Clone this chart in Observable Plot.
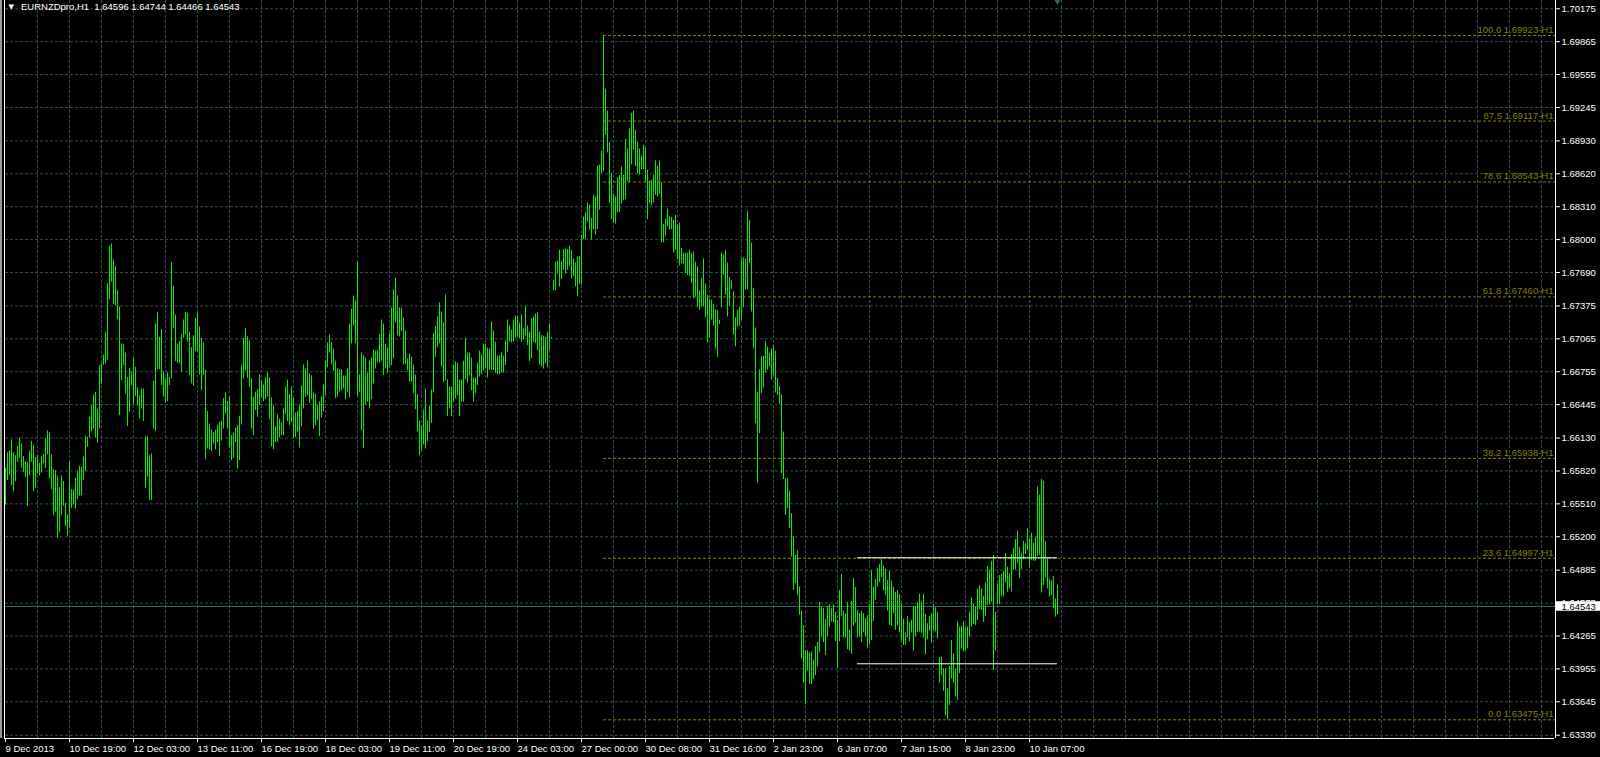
<!DOCTYPE html>
<html><head><meta charset="utf-8">
<script src="https://cdn.jsdelivr.net/npm/d3@7"></script>
<script src="https://cdn.jsdelivr.net/npm/@observablehq/plot@0.6"></script>
<style>
html,body{margin:0;padding:0;background:#000;overflow:hidden}
#chart svg{display:block}
</style></head><body><div id="chart"></div>
<script>
// ---- data ----
const symbolName = "EURNZDpro,H1";
const lastOpen = 1.64596, lastHigh = 1.64744, lastLow = 1.64466, lastClose = 1.64543;

// hourly bar highs / lows in points (1 point = 0.00001)
const highPts = [
165845,165989,166008,166112,165989,165964,166052,166131,166074,165958,165908,165901,166008,166099,166065,165948,
165970,165892,165955,165974,166121,166197,166178,165970,165832,165823,165769,165666,165776,165722,165515,165405,
165908,165644,165641,165751,165813,165864,165854,165952,166146,166137,166325,166435,166536,166561,166404,166812,
166828,166913,167126,167582,167937,167959,167808,167745,167519,167365,167016,167016,166932,166702,166787,166749,
166881,166797,166602,166530,166592,166592,166137,166146,165964,165980,166665,167205,167315,167079,167151,166756,
166687,166743,166702,167780,167560,167290,167016,167038,167101,167243,167315,167305,167126,166982,167095,167258,
167309,167177,167070,167026,166768,166382,166263,166206,166184,166203,166253,166278,166285,166504,166555,166473,
166514,166153,166178,166222,166247,166335,166812,167070,167164,167085,167048,166687,166514,166561,166583,166724,
166671,166630,166702,166743,166696,166508,166435,166234,166347,166310,166272,166404,166611,166677,166539,166611,
166508,166366,166379,166442,166621,166818,166781,166856,166734,166715,166555,166545,166445,166470,166517,166630,
166856,167026,167101,167026,166969,166856,166781,166768,166775,166715,166715,166781,167205,167346,167469,167422,
167789,166724,166932,166903,166884,166743,166856,166884,166960,166950,166950,167101,167243,167205,167016,166979,
167111,167356,167525,167638,167469,167356,167356,167261,167139,166875,166922,166894,166818,166724,166539,166291,
166247,166394,166592,166291,166432,166583,167111,167180,167271,167403,167318,167214,167478,166680,166611,166611,
166818,166847,166837,166677,166677,166856,167073,166932,166932,166884,166696,166696,166837,166950,166913,167016,
167016,166979,166969,167224,167139,167035,166903,166903,166932,166903,167045,167243,167186,167148,167243,167280,
167280,167214,167290,167158,167374,167186,167129,167252,167271,167300,167310,167130,167095,167090,167077,167124,
167202,167077,167617,167787,167799,167900,167790,167906,167912,167906,167937,167900,167818,167780,167831,167843,
168041,168214,168252,168346,168324,168201,168418,168402,168694,168701,168833,169923,169417,169213,168917,168622,
168427,168402,168581,168603,168685,168606,168946,168855,169043,169191,169213,169031,168914,168855,168789,168889,
168861,168654,168553,168559,168606,168742,168691,168742,168537,168145,168189,168286,168214,168208,168182,168230,
168138,168157,167915,167871,167871,167871,167900,167871,167884,167787,167743,167516,167633,167818,167579,167476,
167435,167429,167391,167334,167334,167240,167871,167853,167900,167780,167642,167611,167507,167262,167334,167366,
167821,167828,167820,168266,168182,167968,167541,167167,166558,166774,166894,166900,167041,166988,166925,166972,
167004,166950,166690,166617,166539,166187,165747,165747,165631,165418,165198,165025,165066,164726,164499,164364,
164129,164129,164103,164113,164034,164166,164204,164581,164537,164524,164421,164543,164562,164521,164562,164487,
164411,164694,164845,164499,164474,164581,164317,164590,164807,164722,164506,164480,164499,164474,164430,164458,
164562,164883,164725,164798,164901,164939,164989,164926,164895,164788,164876,164782,164725,164675,164694,164656,
164562,164424,164292,164449,164389,164411,164543,164543,164575,164656,164584,164656,164468,164380,164449,164474,
164562,164531,164487,164060,164066,163956,163956,163767,163978,164223,164097,163956,164399,164349,164355,164399,
164339,164349,164487,164625,164568,164537,164703,164741,164710,164638,164763,164920,164889,164970,165024,164487,
164757,164835,164845,164873,165040,164914,164851,165033,165087,165175,165253,165100,165040,165156,165134,165275,
165178,165234,165140,165197,165668,165592,165740,165721,165156,164999,164798,164788,164826,164616,164744
];
const lowPts = [
165499,165729,165782,165681,165625,165719,165901,165939,165848,165807,165760,165487,165776,165901,165625,165656,
165791,165776,165798,165886,165845,165970,165744,165644,165399,165430,165185,165242,165405,165487,165295,165204,
165279,165468,165499,165462,165550,165581,165587,165729,165813,166043,166128,166190,166215,166131,166080,166215,
166639,166818,166828,166859,167434,167597,167384,167378,167246,166341,166671,166812,166545,166237,166372,166624,
166442,166523,166429,166310,166404,166285,165656,165760,165540,165540,166215,166193,166775,166775,166624,166514,
166460,166473,166624,166687,167164,166850,166837,166828,166749,167070,167101,167032,166718,166639,166617,166944,
166938,166724,166577,166718,165926,166027,166021,166002,166074,166021,166090,165955,166102,166215,166357,166215,
166040,165917,165939,166090,165839,165917,166253,166687,166765,166693,166608,166215,166153,166388,166325,166435,
166504,166473,166492,166514,166303,166049,166021,166090,166090,166131,166153,166153,166351,166285,166247,166278,
166121,166137,166184,166036,166237,166404,166514,166530,166460,166492,166215,166247,166294,166143,166319,166379,
166530,166793,166932,166822,166756,166504,166514,166561,166574,166592,166492,166561,166511,167016,167186,167016,
166520,166561,166200,166030,166442,166467,166404,166492,166639,166781,166844,166837,166853,166718,166781,166737,
166793,166812,166875,167214,167092,167082,167133,166818,166825,166765,166661,166655,166548,166398,166184,165964,
166011,166065,166027,166096,166184,166266,166555,166888,166982,167016,166800,166655,166671,166332,166404,166332,
166467,166498,166530,166332,166467,166467,166680,166649,166718,166577,166467,166548,166624,166705,166727,166762,
166781,166696,166768,166765,166765,166740,166727,166727,166743,166743,166812,166935,167035,167026,167032,167073,
167082,167064,167032,167054,167089,167001,166850,166875,167032,167020,166950,166820,166800,166780,166830,166790,
166957,167064,167516,167516,167674,167554,167623,167711,167674,167711,167752,167630,167655,167554,167460,167579,
167570,168000,168000,168167,168088,167994,168095,168041,168095,168277,168622,168638,168983,168817,168346,168189,
168151,168145,168252,168252,168333,168365,168377,168544,168537,168704,168842,168685,168622,168606,168660,168660,
168537,168189,168339,168318,168346,168418,168402,168427,167969,167969,168032,168120,168088,168095,167875,167900,
167812,167752,167774,167768,167680,167664,167655,167589,167444,167460,167359,167334,167366,167366,167262,167027,
167067,167240,167184,166973,166888,167202,167359,167664,167476,167272,167372,167532,167099,166989,167171,167184,
167240,167359,167522,167528,167773,167318,166972,166266,165706,166171,166548,166602,166743,166768,166800,166674,
166721,166555,166533,166448,165794,165738,165402,165465,165276,165009,164695,164758,164648,164460,164053,163821,
163620,163934,163808,163808,163852,163893,163972,164110,164254,164204,164082,164254,164349,164396,164389,164210,
163959,164213,164449,164248,164245,164135,164122,164091,164355,164386,164245,164254,164204,164298,164254,164151,
164185,164223,164402,164600,164725,164769,164813,164688,164647,164499,164364,164355,164474,164317,164361,164295,
164217,164176,164182,164245,164207,164292,164122,164254,164298,164301,164292,164245,164088,164229,164311,164198,
164311,164301,164239,163821,163893,163745,163510,163475,163610,163862,163821,163689,163658,163909,164141,164110,
164129,164144,164254,164349,164374,164364,164411,164512,164506,164393,164449,164550,164556,164584,163940,164122,
164562,164562,164638,164631,164763,164678,164710,164678,164883,164890,164950,164810,164892,164983,165033,165071,
164908,164977,164970,164970,165014,165024,164669,164741,164813,164710,164631,164647,164521,164443,164466
];

// time axis labels and the bar index where each one sits
const xLabels = ["9 Dec 2013","10 Dec 19:00","12 Dec 03:00","13 Dec 11:00","16 Dec 19:00","18 Dec 03:00",
  "19 Dec 11:00","20 Dec 19:00","24 Dec 03:00","27 Dec 00:00","30 Dec 08:00","31 Dec 16:00",
  "2 Jan 23:00","6 Jan 07:00","7 Jan 15:00","8 Jan 23:00","10 Jan 07:00"];
const xLabelIdx = [0,32,64,96,128,160,192,224,256,288,320,352,384,416,448,480,512];

// price axis tick labels
const yTicks = [1.70175,1.69865,1.69555,1.69245,1.68930,1.68620,1.68310,1.68000,1.67690,1.67375,1.67065,
  1.66755,1.66445,1.66130,1.65820,1.65510,1.65200,1.64885,1.64575,1.64265,1.63955,1.63645,1.63330];

// Fibonacci retracement levels
const fibPct = ["100.0","87.5","78.6","61.8","38.2","23.6","0.0"];
const fibPrice = [1.69923,1.69117,1.68543,1.67460,1.65938,1.64997,1.63475];

// horizontal range lines (white) and their bar span
const rangePrice = [1.65002, 1.64003];
const rangeFrom = 426, rangeTo = 526;

// ---- build ----
const bars = highPts.map((h, i) => ({i, high: h / 1e5, low: lowPts[i] / 1e5}));
const peakIdx = highPts.indexOf(d3.max(highPts));
const fib = fibPct.map((p, k) => ({price: fibPrice[k], label: `${p} ${fibPrice[k].toFixed(5)}-H1`}));
const xLabelMap = new Map(xLabelIdx.map((d, k) => [d, xLabels[k]]));
const xGridIdx = d3.range(16, 775, 16);

const xDom = [0, 775];
const yDom = [1.63299, 1.70253];
const GRID = "#2F4F4F";
const FONT = "'Liberation Sans', Arial, sans-serif";
const FS = 9.5;

const chart = Plot.plot({
  width: 1600, height: 757,
  marginLeft: 5, marginRight: 45, marginTop: 0, marginBottom: 19,
  style: {background: "#000", color: "#fff", fontFamily: FONT, fontSize: FS + "px", overflow: "visible"},
  x: {type: "linear", domain: xDom, axis: null},
  y: {type: "linear", domain: yDom, axis: null},
  marks: [
    Plot.gridX(xGridIdx, {stroke: GRID, strokeOpacity: 1, strokeDasharray: "3,2"}),
    Plot.gridY(yTicks, {stroke: GRID, strokeOpacity: 1, strokeDasharray: "3,2"}),
    Plot.ruleY(fib, {y: "price", x1: peakIdx, x2: xDom[1], stroke: "#808000", strokeDasharray: "3,2"}),
    Plot.text(fib, {y: "price", text: "label", frameAnchor: "right", textAnchor: "end", lineAnchor: "bottom",
      dx: -2, dy: -2.5, fill: "#808000", fontSize: FS}),
    Plot.ruleY([lastClose], {stroke: "#3d6262"}),
    Plot.ruleX(bars, {x: "i", y1: "low", y2: "high", stroke: "#00F000", strokeWidth: 1}),
    Plot.ruleY(rangePrice, {x1: rangeFrom, x2: rangeTo, stroke: "#ffffff"}),
    // frame lines
    Plot.ruleX([xDom[1]], {stroke: "#fff"}),
    Plot.ruleY([yDom[0]], {stroke: "#fff", dx: -1}),
    Plot.ruleX([xDom[0]], {stroke: "#fff", dx: -1}),
    Plot.ruleX([xDom[0]], {stroke: "#9a9a9a", strokeWidth: 2, dx: -4.5}),
    // axes
    Plot.axisY(yTicks, {anchor: "right", tickSize: 4, tickPadding: 2, tickFormat: d => d.toFixed(5),
      color: "#fff", fontSize: FS, label: null}),
    Plot.axisX(xLabelIdx, {anchor: "bottom", tickSize: 4, tickPadding: 3, tickFormat: d => xLabelMap.get(d),
      textAnchor: "start", dx: 0, color: "#fff", fontSize: FS, label: null}),
    // last price tag
    Plot.rect([lastClose], {x1: xDom[1] + 0.5, x2: xDom[1] + 22.5, y1: d => d - 0.00045, y2: d => d + 0.00045, fill: "#fff"}),
    Plot.text([lastClose], {y: d => d, text: d => d.toFixed(5), frameAnchor: "right", textAnchor: "start",
      dx: 6, fill: "#000", fontSize: FS}),
    // chart shift marker
    Plot.dot([highPts.length - 1], {x: d => d, frameAnchor: "top", symbol: "triangle", rotate: 180, r: 2.6,
      fill: "#3d6262", stroke: "none", dy: 0.5}),
    // title
    Plot.text(["\u25BC"], {text: d => d, frameAnchor: "top-left", textAnchor: "start", lineAnchor: "top",
      dx: 3, dy: 4, fill: "#fff", fontSize: 7, fontFamily: "DejaVu Sans"}),
    Plot.text([`${symbolName}\u00A0\u00A0${lastOpen.toFixed(5)} ${lastHigh.toFixed(5)} ${lastLow.toFixed(5)} ${lastClose.toFixed(5)}`],
      {text: d => d, frameAnchor: "top-left", textAnchor: "start", lineAnchor: "top", dx: 15.5, dy: 3,
       fill: "#fff", fontSize: FS})
  ]
});
document.getElementById("chart").appendChild(chart);
</script>
</body></html>
